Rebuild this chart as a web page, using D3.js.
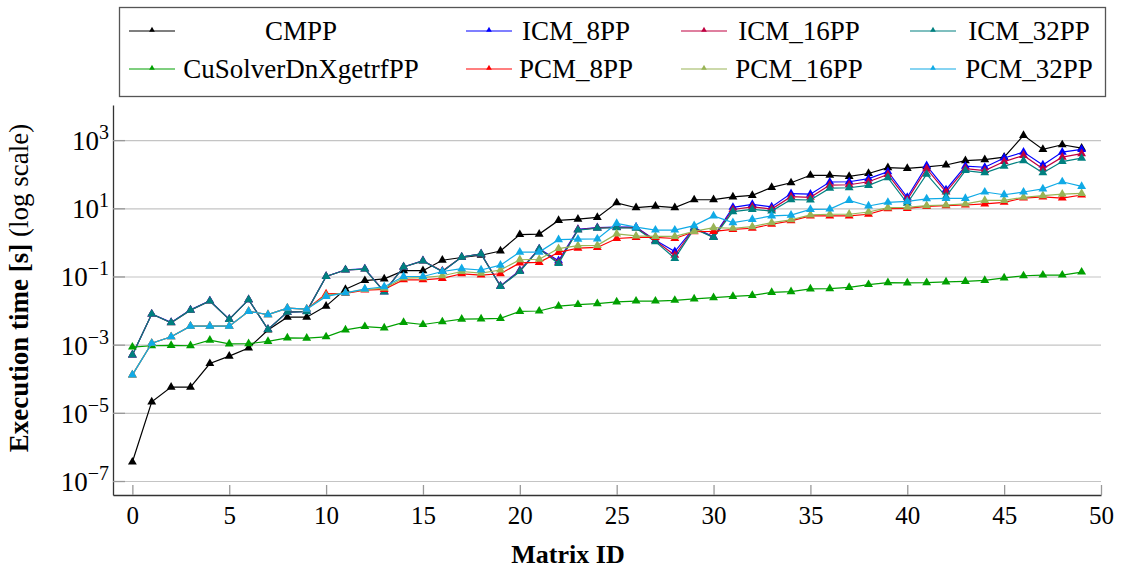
<!DOCTYPE html>
<html>
<head>
<meta charset="utf-8">
<script src="https://cdn.jsdelivr.net/npm/d3@7/dist/d3.min.js"></script>
<style>
  html, body { margin: 0; padding: 0; background: #fff; }
  svg { display: block; font-family: "Liberation Serif", "Times New Roman", serif; }
</style>
</head>
<body>
<svg id="chart" width="1123" height="574"></svg>
<script>
// Matrix IDs 0..49
const matrixIds = d3.range(0, 50);

// Execution times in seconds, one array per method
const cmpp = [3.6e-7, 2.1e-5, 5.7e-5, 5.7e-5, 2.8e-4, 4.6e-4, 8e-4, 2.7e-3, 6.4e-3, 6.4e-3,
  0.0135, 0.042, 0.076, 0.085, 0.148, 0.148, 0.30, 0.36, 0.42, 0.56,
  1.7, 1.75, 4.4, 4.8, 5.4, 14.5, 10.4, 11.5, 10.5, 17.8,
  18, 21.5, 24, 41, 56, 93, 93, 86, 105, 155,
  148, 165, 186, 250, 267, 316, 1380, 535, 730, 580];

const icm8 = [5e-4, 7.9e-3, 4.5e-3, 0.0105, 0.0194, 5.6e-3, 0.021, 2.8e-3, 9e-3, 9.5e-3,
  0.1, 0.157, 0.168, 0.036, 0.19, 0.29, 0.14, 0.37, 0.46, 0.053,
  0.15, 0.65, 0.29, 2.4, 2.7, 2.8, 2.8, 1.15, 0.54, 2.7,
  1.45, 10.7, 13, 11, 27, 26, 59, 60, 74, 118,
  21, 178, 35, 172, 160, 300, 445, 187, 445, 535];

const icm16 = [5e-4, 7.9e-3, 4.4e-3, 0.0103, 0.019, 5.5e-3, 0.021, 2.8e-3, 9e-3, 9.5e-3,
  0.1, 0.155, 0.165, 0.036, 0.19, 0.285, 0.145, 0.37, 0.46, 0.052,
  0.145, 0.64, 0.26, 2.35, 2.65, 2.75, 2.7, 1.12, 0.42, 2.6,
  1.42, 9.2, 11, 9.5, 22, 21, 48, 49, 60, 98,
  18, 145, 30, 145, 128, 235, 355, 145, 316, 400];

const icm32 = [5e-4, 7.9e-3, 4.4e-3, 0.0103, 0.019, 5.5e-3, 0.021, 2.8e-3, 9e-3, 9.3e-3,
  0.1, 0.155, 0.165, 0.035, 0.19, 0.285, 0.14, 0.37, 0.46, 0.051,
  0.14, 0.64, 0.24, 2.3, 2.6, 2.7, 2.6, 1.05, 0.34, 2.5,
  1.4, 8, 9.3, 8.3, 18, 17.5, 39, 40, 47, 79,
  14, 100, 22, 128, 110, 173, 250, 110, 235, 295];

const cusolver = [8.5e-4, 9.3e-4, 9.5e-4, 9.3e-4, 1.35e-3, 1.05e-3, 1.07e-3, 1.25e-3, 1.58e-3, 1.55e-3,
  1.7e-3, 2.7e-3, 3.4e-3, 3.1e-3, 4.5e-3, 3.9e-3, 4.7e-3, 5.6e-3, 5.7e-3, 5.9e-3,
  9.5e-3, 9.7e-3, 0.0135, 0.015, 0.016, 0.018, 0.019, 0.019, 0.020, 0.022,
  0.024, 0.026, 0.028, 0.034, 0.036, 0.043, 0.044, 0.048, 0.058, 0.066,
  0.065, 0.066, 0.069, 0.072, 0.077, 0.091, 0.105, 0.11, 0.11, 0.135];

const pcm8 = [1.3e-4, 1.1e-3, 1.7e-3, 3.5e-3, 3.5e-3, 3.5e-3, 9.5e-3, 7.6e-3, 0.0118, 0.011,
  0.031, 0.032, 0.04, 0.042, 0.08, 0.08, 0.088, 0.12, 0.11, 0.12,
  0.25, 0.26, 0.51, 0.68, 0.71, 1.3, 1.4, 1.4, 1.3, 2.05,
  2.1, 2.4, 2.6, 3.4, 4.3, 6, 6, 6, 6.7, 9.8,
  9.9, 11.4, 12, 12.5, 13.4, 15, 20, 21.5, 20, 24.5];

const pcm16 = [1.3e-4, 1.1e-3, 1.7e-3, 3.5e-3, 3.5e-3, 3.5e-3, 9.5e-3, 7.6e-3, 0.0118, 0.011,
  0.028, 0.033, 0.042, 0.045, 0.09, 0.092, 0.105, 0.14, 0.125, 0.155,
  0.31, 0.32, 0.66, 0.8, 0.82, 1.77, 1.55, 1.5, 1.5, 2.1,
  2.7, 2.6, 2.9, 3.8, 4.6, 6.4, 6.7, 6.7, 7.8, 10.5,
  10.7, 12, 12.5, 13.4, 17, 17, 21, 23.5, 26, 27.5];

const pcm32 = [1.3e-4, 1.1e-3, 1.7e-3, 3.5e-3, 3.5e-3, 3.5e-3, 9.5e-3, 7.6e-3, 0.0118, 0.011,
  0.026, 0.033, 0.043, 0.05, 0.1, 0.1, 0.14, 0.17, 0.155, 0.215,
  0.52, 0.52, 1.2, 1.25, 1.27, 3.6, 2.8, 2.3, 2.3, 3.1,
  6, 3.8, 4.7, 6, 6.3, 9.3, 9.5, 17, 11.7, 15,
  16, 19, 19.5, 19.5, 30, 25, 30, 37, 60, 44];

const seriesNames = ["CMPP", "ICM_8PP", "ICM_16PP", "ICM_32PP",
                     "CuSolverDnXgetrfPP", "PCM_8PP", "PCM_16PP", "PCM_32PP"];
const seriesValues = [cmpp, icm8, icm16, icm32, cusolver, pcm8, pcm16, pcm32];
const seriesColors = ["#000000", "#0000ff", "#bf0040", "#008080",
                      "#00a000", "#ff0000", "#99b456", "#10aae6"];

const xTicks = d3.range(0, 51, 5);
const yTickExps = [-7, -5, -3, -1, 1, 3];

// ---- layout ----
const svg = d3.select("#chart");
const plotL = 113, plotR = 1101, plotT = 105, plotB = 495;
const fontFamily = '"Liberation Serif", "Times New Roman", serif';

const x = d3.scaleLinear().domain([-1, 50]).range([plotL, plotR]);
const y = d3.scaleLog().domain([Math.pow(10, -7.41), Math.pow(10, 4.03)]).range([plotB, plotT]);

svg.append("rect").attr("width", 1123).attr("height", 574).attr("fill", "#fff");

// horizontal grid
const grid = svg.append("g").attr("transform", `translate(${plotL},0)`)
  .call(d3.axisLeft(y).tickValues(yTickExps.map(e => Math.pow(10, e)))
    .tickSize(-(plotR - plotL)).tickFormat(""));
grid.select(".domain").remove();
grid.selectAll(".tick line").attr("stroke", "#c4c4c4").attr("stroke-width", 1.2);

// x axis: ticks point inward
const xAxis = svg.append("g").attr("transform", `translate(0,${plotB})`)
  .call(d3.axisBottom(x).tickValues(xTicks).tickSize(-10).tickSizeOuter(0));
xAxis.select(".domain").attr("stroke", "#333").attr("stroke-width", 1.3);
xAxis.selectAll(".tick line").attr("stroke", "#999").attr("stroke-width", 1.3);
xAxis.selectAll(".tick text")
  .attr("font-family", fontFamily).attr("font-size", 25).attr("fill", "#000")
  .attr("dy", "0.32em").attr("y", 21);

// y axis: short inward ticks, labels drawn as 10^n
const yAxis = svg.append("g").attr("transform", `translate(${plotL},0)`)
  .call(d3.axisLeft(y).tickValues(yTickExps.map(e => Math.pow(10, e)))
    .tickSize(-12).tickSizeOuter(0).tickFormat(""));
yAxis.select(".domain").attr("stroke", "#333").attr("stroke-width", 1.3);
yAxis.selectAll(".tick line").attr("stroke", "#999").attr("stroke-width", 1.3);

const yLabels = svg.append("g");
yTickExps.forEach(e => {
  const t = yLabels.append("text")
    .attr("x", 109).attr("y", y(Math.pow(10, e)) + 10)
    .attr("text-anchor", "end")
    .attr("font-family", fontFamily).attr("font-size", 27).attr("fill", "#000");
  t.append("tspan").text("10");
  t.append("tspan").attr("font-size", 20).attr("dy", -11)
    .text(e < 0 ? "\u2212" + Math.abs(e) : String(e));
});

// axis titles
svg.append("text")
  .attr("x", 568).attr("y", 563)
  .attr("text-anchor", "middle")
  .attr("font-family", fontFamily).attr("font-size", 26).attr("font-weight", "bold")
  .text("Matrix ID");

const yTitle = svg.append("text")
  .attr("transform", "translate(28,288) rotate(-90)")
  .attr("text-anchor", "middle")
  .attr("font-family", fontFamily).attr("font-size", 27);
yTitle.append("tspan").attr("font-weight", "bold").text("Execution time [s]");
yTitle.append("tspan").text(" (log scale)");

// ---- series ----
const line = d3.line().x((d, i) => x(matrixIds[i])).y(d => y(d));
const tri = d3.symbol().type(d3.symbolTriangle).size(34);

const plot = svg.append("g");
seriesValues.forEach((vals, k) => {
  const g = plot.append("g");
  g.append("path").datum(vals)
    .attr("d", line).attr("fill", "none")
    .attr("stroke", seriesColors[k]).attr("stroke-width", 1.2);
  g.selectAll("path.m").data(vals).enter().append("path")
    .attr("class", "m")
    .attr("d", tri)
    .attr("transform", (d, i) => `translate(${x(matrixIds[i])},${y(d)})`)
    .attr("fill", seriesColors[k]);
});

// ---- legend ----
const legend = svg.append("g");
legend.append("rect")
  .attr("x", 119.5).attr("y", 7.5).attr("width", 986).attr("height", 89)
  .attr("fill", "#fff").attr("stroke", "#555").attr("stroke-width", 1.3);

const colLineX = [129, 466, 681, 910];
const colTextX = [301, 576, 799, 1029];
const rowY = [31, 69];
seriesNames.forEach((name, k) => {
  const col = k % 4, row = Math.floor(k / 4);
  const cy = rowY[row];
  legend.append("line")
    .attr("x1", colLineX[col]).attr("x2", colLineX[col] + 46)
    .attr("y1", cy).attr("y2", cy)
    .attr("stroke", seriesColors[k]).attr("stroke-width", 1.2);
  legend.append("path")
    .attr("d", d3.symbol().type(d3.symbolTriangle).size(14)())
    .attr("transform", `translate(${colLineX[col] + 23},${cy - 1})`)
    .attr("fill", seriesColors[k]);
  legend.append("text")
    .attr("x", colTextX[col]).attr("y", cy + 9)
    .attr("text-anchor", "middle")
    .attr("font-family", fontFamily).attr("font-size", 27).attr("fill", "#000")
    .text(name);
});
</script>
</body>
</html>
